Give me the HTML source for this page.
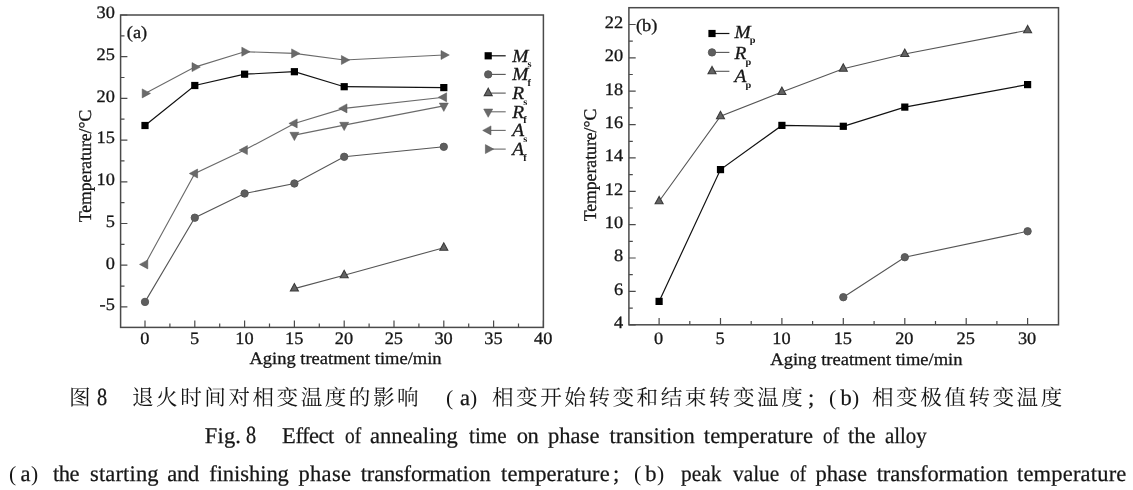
<!DOCTYPE html>
<html lang="zh"><head><meta charset="utf-8"><title>Fig. 8</title>
<style>
html,body{margin:0;padding:0;background:#fff;}
body{width:1133px;height:490px;position:relative;overflow:hidden;font-family:"Liberation Serif",serif;color:#161616;text-rendering:geometricPrecision;}
#wrap{position:absolute;left:0;top:0;width:1133px;height:490px;will-change:transform;}
svg{position:absolute;left:0;top:0;}
svg text{font-family:"Liberation Serif",serif;font-size:17.4px;text-rendering:geometricPrecision;fill:#161616;stroke:#161616;stroke-width:0.3px;}
.ln{position:absolute;left:0;width:1133px;height:26px;margin:0;font-size:22.5px;line-height:26px;white-space:nowrap;}
.w{position:absolute;top:0;-webkit-text-stroke:0.25px #161616;}
.zh{position:absolute;top:0;color:#161616;letter-spacing:2.5px;font-size:21.6px;font-family:"Liberation Serif","Noto Serif CJK SC",serif;}
</style></head><body><div id="wrap">
<svg width="1133" height="490" viewBox="0 0 1133 490">
<rect x="120.6" y="15.0" width="422.8" height="312.4" fill="none" stroke="#4a4a4a" stroke-width="1.5"/>
<path d="M145.0 327.4v-6.8M194.8 327.4v-6.8M244.6 327.4v-6.8M294.4 327.4v-6.8M344.2 327.4v-6.8M394.0 327.4v-6.8M443.8 327.4v-6.8M493.6 327.4v-6.8M543.4 327.4v-6.8M169.9 327.4v-3.9M219.7 327.4v-3.9M269.5 327.4v-3.9M319.3 327.4v-3.9M369.1 327.4v-3.9M418.9 327.4v-3.9M468.7 327.4v-3.9M518.5 327.4v-3.9M120.6 306.9h6.8M120.6 265.2h6.8M120.6 223.5h6.8M120.6 181.8h6.8M120.6 140.1h6.8M120.6 98.4h6.8M120.6 56.7h6.8M120.6 15.0h6.8M120.6 286.1h3.9M120.6 244.3h3.9M120.6 202.6h3.9M120.6 160.9h3.9M120.6 119.2h3.9M120.6 77.5h3.9M120.6 35.8h3.9" stroke="#4a4a4a" stroke-width="1.2" fill="none"/>
<rect x="628.9" y="7.7" width="429.6" height="317.1" fill="none" stroke="#4a4a4a" stroke-width="1.5"/>
<path d="M659.1 324.8v-6.8M720.5 324.8v-6.8M781.9 324.8v-6.8M843.3 324.8v-6.8M904.8 324.8v-6.8M966.2 324.8v-6.8M1027.6 324.8v-6.8M689.8 324.8v-3.9M751.2 324.8v-3.9M812.6 324.8v-3.9M874.1 324.8v-3.9M935.5 324.8v-3.9M996.9 324.8v-3.9M628.9 324.8h6.8M628.9 291.4h6.8M628.9 258.0h6.8M628.9 224.7h6.8M628.9 191.3h6.8M628.9 157.9h6.8M628.9 124.6h6.8M628.9 91.2h6.8M628.9 57.9h6.8M628.9 24.5h6.8M628.9 308.1h3.9M628.9 274.7h3.9M628.9 241.3h3.9M628.9 208.0h3.9M628.9 174.6h3.9M628.9 141.3h3.9M628.9 107.9h3.9M628.9 74.5h3.9M628.9 41.2h3.9" stroke="#4a4a4a" stroke-width="1.2" fill="none"/>
<polyline points="145.0,125.5 194.8,85.5 244.6,74.2 294.4,71.7 344.2,86.7 443.8,87.6" fill="none" stroke="#111" stroke-width="1.2"/>
<rect x="141.4" y="121.9" width="7.2" height="7.2" fill="#000"/>
<rect x="191.2" y="81.9" width="7.2" height="7.2" fill="#000"/>
<rect x="241.0" y="70.6" width="7.2" height="7.2" fill="#000"/>
<rect x="290.8" y="68.1" width="7.2" height="7.2" fill="#000"/>
<rect x="340.6" y="83.1" width="7.2" height="7.2" fill="#000"/>
<rect x="440.2" y="84.0" width="7.2" height="7.2" fill="#000"/>
<polyline points="145.0,301.9 194.8,217.7 244.6,193.5 294.4,183.5 344.2,156.8 443.8,146.8" fill="none" stroke="#555" stroke-width="1.1"/>
<circle cx="145.0" cy="301.9" r="3.7" fill="#5e5e5e" stroke="#555" stroke-width="0.9"/>
<circle cx="194.8" cy="217.7" r="3.7" fill="#5e5e5e" stroke="#555" stroke-width="0.9"/>
<circle cx="244.6" cy="193.5" r="3.7" fill="#5e5e5e" stroke="#555" stroke-width="0.9"/>
<circle cx="294.4" cy="183.5" r="3.7" fill="#5e5e5e" stroke="#555" stroke-width="0.9"/>
<circle cx="344.2" cy="156.8" r="3.7" fill="#5e5e5e" stroke="#555" stroke-width="0.9"/>
<circle cx="443.8" cy="146.8" r="3.7" fill="#5e5e5e" stroke="#555" stroke-width="0.9"/>
<polyline points="294.4,288.6 344.2,275.2 443.8,247.7" fill="none" stroke="#555" stroke-width="1.1"/>
<polygon points="294.4,283.6 290.4,291.0 298.4,291.0" fill="#636363" stroke="#3a3a3a" stroke-width="1.1" stroke-linejoin="miter"/>
<polygon points="344.2,270.3 340.2,277.7 348.2,277.7" fill="#636363" stroke="#3a3a3a" stroke-width="1.1" stroke-linejoin="miter"/>
<polygon points="443.8,242.8 439.8,250.2 447.8,250.2" fill="#636363" stroke="#3a3a3a" stroke-width="1.1" stroke-linejoin="miter"/>
<polyline points="294.4,135.1 344.2,125.1 443.8,105.9" fill="none" stroke="#6a6a6a" stroke-width="1.1"/>
<polygon points="294.4,140.6 289.9,132.3 298.9,132.3" fill="#6a6a6a" stroke="#555" stroke-width="0.5"/>
<polygon points="344.2,130.6 339.7,122.3 348.7,122.3" fill="#6a6a6a" stroke="#555" stroke-width="0.5"/>
<polygon points="443.8,111.4 439.3,103.1 448.3,103.1" fill="#6a6a6a" stroke="#555" stroke-width="0.5"/>
<polyline points="145.0,264.4 194.8,173.5 244.6,150.1 294.4,123.4 344.2,108.4 443.8,97.3" fill="none" stroke="#6a6a6a" stroke-width="1.1"/>
<polygon points="139.5,264.4 147.8,259.9 147.8,268.9" fill="#6a6a6a" stroke="#555" stroke-width="0.5"/>
<polygon points="189.3,173.5 197.6,169.0 197.6,178.0" fill="#6a6a6a" stroke="#555" stroke-width="0.5"/>
<polygon points="239.1,150.1 247.4,145.6 247.4,154.6" fill="#6a6a6a" stroke="#555" stroke-width="0.5"/>
<polygon points="288.9,123.4 297.2,118.9 297.2,127.9" fill="#6a6a6a" stroke="#555" stroke-width="0.5"/>
<polygon points="338.7,108.4 347.0,103.9 347.0,112.9" fill="#6a6a6a" stroke="#555" stroke-width="0.5"/>
<polygon points="438.3,97.3 446.6,92.8 446.6,101.8" fill="#6a6a6a" stroke="#555" stroke-width="0.5"/>
<polyline points="145.0,93.4 194.8,67.1 244.6,51.7 294.4,53.4 344.2,60.0 443.8,55.0" fill="none" stroke="#6a6a6a" stroke-width="1.1"/>
<polygon points="150.5,93.4 142.2,88.9 142.2,97.9" fill="#6a6a6a" stroke="#555" stroke-width="0.5"/>
<polygon points="200.3,67.1 192.0,62.6 192.0,71.6" fill="#6a6a6a" stroke="#555" stroke-width="0.5"/>
<polygon points="250.1,51.7 241.8,47.2 241.8,56.2" fill="#6a6a6a" stroke="#555" stroke-width="0.5"/>
<polygon points="299.9,53.4 291.6,48.9 291.6,57.9" fill="#6a6a6a" stroke="#555" stroke-width="0.5"/>
<polygon points="349.7,60.0 341.4,55.5 341.4,64.5" fill="#6a6a6a" stroke="#555" stroke-width="0.5"/>
<polygon points="449.3,55.0 441.0,50.5 441.0,59.5" fill="#6a6a6a" stroke="#555" stroke-width="0.5"/>
<polyline points="659.1,301.4 720.5,169.6 781.9,125.4 843.3,126.3 904.8,107.1 1027.6,84.6" fill="none" stroke="#111" stroke-width="1.2"/>
<rect x="655.5" y="297.8" width="7.2" height="7.2" fill="#000"/>
<rect x="716.9" y="166.0" width="7.2" height="7.2" fill="#000"/>
<rect x="778.3" y="121.8" width="7.2" height="7.2" fill="#000"/>
<rect x="839.7" y="122.7" width="7.2" height="7.2" fill="#000"/>
<rect x="901.2" y="103.5" width="7.2" height="7.2" fill="#000"/>
<rect x="1024.0" y="81.0" width="7.2" height="7.2" fill="#000"/>
<polyline points="843.3,297.2 904.8,257.2 1027.6,231.3" fill="none" stroke="#555" stroke-width="1.1"/>
<circle cx="843.3" cy="297.2" r="3.7" fill="#5e5e5e" stroke="#555" stroke-width="0.9"/>
<circle cx="904.8" cy="257.2" r="3.7" fill="#5e5e5e" stroke="#555" stroke-width="0.9"/>
<circle cx="1027.6" cy="231.3" r="3.7" fill="#5e5e5e" stroke="#555" stroke-width="0.9"/>
<polyline points="659.1,201.3 720.5,116.2 781.9,92.1 843.3,68.7 904.8,54.0 1027.6,30.3" fill="none" stroke="#555" stroke-width="1.1"/>
<polygon points="659.1,196.4 655.1,203.8 663.1,203.8" fill="#636363" stroke="#3a3a3a" stroke-width="1.1" stroke-linejoin="miter"/>
<polygon points="720.5,111.3 716.5,118.7 724.5,118.7" fill="#636363" stroke="#3a3a3a" stroke-width="1.1" stroke-linejoin="miter"/>
<polygon points="781.9,87.1 777.9,94.5 785.9,94.5" fill="#636363" stroke="#3a3a3a" stroke-width="1.1" stroke-linejoin="miter"/>
<polygon points="843.3,63.8 839.3,71.2 847.3,71.2" fill="#636363" stroke="#3a3a3a" stroke-width="1.1" stroke-linejoin="miter"/>
<polygon points="904.8,49.1 900.8,56.5 908.8,56.5" fill="#636363" stroke="#3a3a3a" stroke-width="1.1" stroke-linejoin="miter"/>
<polygon points="1027.6,25.4 1023.6,32.8 1031.6,32.8" fill="#636363" stroke="#3a3a3a" stroke-width="1.1" stroke-linejoin="miter"/>
<path d="M488.2 55.8H505.7" stroke="#111" stroke-width="1.2"/>
<rect x="484.6" y="52.2" width="7.2" height="7.2" fill="#000"/>
<path d="M488.2 74.4H505.7" stroke="#555" stroke-width="1.1"/>
<circle cx="488.2" cy="74.4" r="3.7" fill="#5e5e5e" stroke="#555" stroke-width="0.9"/>
<path d="M488.2 93.1H505.7" stroke="#555" stroke-width="1.1"/>
<polygon points="488.2,88.2 484.2,95.6 492.2,95.6" fill="#636363" stroke="#3a3a3a" stroke-width="1.1" stroke-linejoin="miter"/>
<path d="M488.2 111.8H505.7" stroke="#6a6a6a" stroke-width="1.1"/>
<polygon points="488.2,117.3 483.7,109.0 492.7,109.0" fill="#6a6a6a" stroke="#555" stroke-width="0.5"/>
<path d="M488.2 130.4H505.7" stroke="#6a6a6a" stroke-width="1.1"/>
<polygon points="482.7,130.4 491.0,125.9 491.0,134.9" fill="#6a6a6a" stroke="#555" stroke-width="0.5"/>
<path d="M488.2 149.1H505.7" stroke="#6a6a6a" stroke-width="1.1"/>
<polygon points="493.7,149.1 485.4,144.6 485.4,153.6" fill="#6a6a6a" stroke="#555" stroke-width="0.5"/>
<path d="M712 33.5H729.4" stroke="#111" stroke-width="1.2"/>
<rect x="708.4" y="29.9" width="7.2" height="7.2" fill="#000"/>
<path d="M712 52.4H729.4" stroke="#555" stroke-width="1.1"/>
<circle cx="712.0" cy="52.4" r="3.7" fill="#5e5e5e" stroke="#555" stroke-width="0.9"/>
<path d="M712 71.3H729.4" stroke="#555" stroke-width="1.1"/>
<polygon points="712.0,66.4 708.0,73.8 716.0,73.8" fill="#636363" stroke="#3a3a3a" stroke-width="1.1" stroke-linejoin="miter"/>
<g><text transform="translate(144.8,344.0) scale(1.055,1)" text-anchor="middle">0</text>
<text transform="translate(194.6,344.0) scale(1.055,1)" text-anchor="middle">5</text>
<text transform="translate(244.4,344.0) scale(1.055,1)" text-anchor="middle">10</text>
<text transform="translate(294.2,344.0) scale(1.055,1)" text-anchor="middle">15</text>
<text transform="translate(344.0,344.0) scale(1.055,1)" text-anchor="middle">20</text>
<text transform="translate(393.8,344.0) scale(1.055,1)" text-anchor="middle">25</text>
<text transform="translate(443.6,344.0) scale(1.055,1)" text-anchor="middle">30</text>
<text transform="translate(493.4,344.0) scale(1.055,1)" text-anchor="middle">35</text>
<text transform="translate(543.2,344.0) scale(1.055,1)" text-anchor="middle">40</text>
<text transform="translate(114.9,310.2) scale(1.055,1)" text-anchor="end">-5</text>
<text transform="translate(114.9,268.5) scale(1.055,1)" text-anchor="end">0</text>
<text transform="translate(114.9,226.8) scale(1.055,1)" text-anchor="end">5</text>
<text transform="translate(114.9,185.1) scale(1.055,1)" text-anchor="end">10</text>
<text transform="translate(114.9,143.4) scale(1.055,1)" text-anchor="end">15</text>
<text transform="translate(114.9,101.7) scale(1.055,1)" text-anchor="end">20</text>
<text transform="translate(114.9,60.0) scale(1.055,1)" text-anchor="end">25</text>
<text transform="translate(114.9,18.3) scale(1.055,1)" text-anchor="end">30</text>
<text transform="translate(658.6,344.1) scale(1.055,1)" text-anchor="middle">0</text>
<text transform="translate(720.0,344.1) scale(1.055,1)" text-anchor="middle">5</text>
<text transform="translate(781.4,344.1) scale(1.055,1)" text-anchor="middle">10</text>
<text transform="translate(842.8,344.1) scale(1.055,1)" text-anchor="middle">15</text>
<text transform="translate(904.3,344.1) scale(1.055,1)" text-anchor="middle">20</text>
<text transform="translate(965.7,344.1) scale(1.055,1)" text-anchor="middle">25</text>
<text transform="translate(1027.1,344.1) scale(1.055,1)" text-anchor="middle">30</text>
<text transform="translate(623.2,328.1) scale(1.055,1)" text-anchor="end">4</text>
<text transform="translate(623.2,294.7) scale(1.055,1)" text-anchor="end">6</text>
<text transform="translate(623.2,261.3) scale(1.055,1)" text-anchor="end">8</text>
<text transform="translate(623.2,228.0) scale(1.055,1)" text-anchor="end">10</text>
<text transform="translate(623.2,194.6) scale(1.055,1)" text-anchor="end">12</text>
<text transform="translate(623.2,161.2) scale(1.055,1)" text-anchor="end">14</text>
<text transform="translate(623.2,127.9) scale(1.055,1)" text-anchor="end">16</text>
<text transform="translate(623.2,94.5) scale(1.055,1)" text-anchor="end">18</text>
<text transform="translate(623.2,61.2) scale(1.055,1)" text-anchor="end">20</text>
<text transform="translate(623.2,27.8) scale(1.055,1)" text-anchor="end">22</text>
<text transform="translate(249.4,364.4) scale(1.064,1)" text-anchor="start">Aging treatment time/min</text>
<text transform="translate(770.3,364.5) scale(1.064,1)" text-anchor="start">Aging treatment time/min</text>
<text transform="translate(90.9,166) rotate(-90) scale(1.015,1.03)" text-anchor="middle">Temperature/°C</text>
<text transform="translate(595.9,165) rotate(-90) scale(1.015,1.03)" text-anchor="middle">Temperature/°C</text>
<text transform="translate(126.8,37.9) scale(1.055,1)" text-anchor="start">(a)</text>
<text transform="translate(635.9,31.4) scale(1.055,1)" text-anchor="start">(b)</text>
<text transform="translate(512.3,61.7) scale(1.055,1)" text-anchor="start"><tspan font-style="italic" font-size="18.4">M</tspan><tspan font-size="9.8" font-weight="bold" stroke-width="0" dx="-0.9" dy="5.6">s</tspan></text>
<text transform="translate(512.3,80.3) scale(1.055,1)" text-anchor="start"><tspan font-style="italic" font-size="18.4">M</tspan><tspan font-size="9.8" font-weight="bold" stroke-width="0" dx="-0.9" dy="5.6">f</tspan></text>
<text transform="translate(512.3,99.0) scale(1.055,1)" text-anchor="start"><tspan font-style="italic" font-size="18.4">R</tspan><tspan font-size="9.8" font-weight="bold" stroke-width="0" dx="-0.9" dy="5.6">s</tspan></text>
<text transform="translate(512.3,117.7) scale(1.055,1)" text-anchor="start"><tspan font-style="italic" font-size="18.4">R</tspan><tspan font-size="9.8" font-weight="bold" stroke-width="0" dx="-0.9" dy="5.6">f</tspan></text>
<text transform="translate(512.3,136.3) scale(1.055,1)" text-anchor="start"><tspan font-style="italic" font-size="18.4">A</tspan><tspan font-size="9.8" font-weight="bold" stroke-width="0" dx="-0.9" dy="5.6">s</tspan></text>
<text transform="translate(512.3,155.0) scale(1.055,1)" text-anchor="start"><tspan font-style="italic" font-size="18.4">A</tspan><tspan font-size="9.8" font-weight="bold" stroke-width="0" dx="-0.9" dy="5.6">f</tspan></text>
<text transform="translate(734.6,37.8) scale(1.055,1)" text-anchor="start"><tspan font-style="italic" font-size="18.4">M</tspan><tspan font-size="9.8" font-weight="bold" stroke-width="0" dx="-0.9" dy="5.6">p</tspan></text>
<text transform="translate(734.6,59.2) scale(1.055,1)" text-anchor="start"><tspan font-style="italic" font-size="18.4">R</tspan><tspan font-size="9.8" font-weight="bold" stroke-width="0" dx="-0.9" dy="5.6">p</tspan></text>
<text transform="translate(734.6,82.0) scale(1.055,1)" text-anchor="start"><tspan font-style="italic" font-size="18.4">A</tspan><tspan font-size="9.8" font-weight="bold" stroke-width="0" dx="-0.9" dy="5.6">p</tspan></text></g>
</svg>
<p class="ln" style="top:385.01px"><span class="zh" style="left:69px">图</span> <span class="w" style="left:97.1px;transform:scale(0.9,1.1);transform-origin:0 24.59px">8</span> <span class="zh" style="left:132px">退火时间对相变温度的影响</span> <span class="zh" style="left:446px">(</span><span class="w" style="left:460.0px;letter-spacing:0.00px">a</span><span class="zh" style="left:470px">)</span> <span class="zh" style="left:492px">相变开始转变和结束转变温度</span><span class="w" style="left:808.1px;letter-spacing:0.00px">;</span> <span class="zh" style="left:829px">(</span><span class="w" style="left:840.5px;letter-spacing:0.00px">b</span><span class="zh" style="left:852px">)</span> <span class="zh" style="left:872px">相变极值转变温度</span></p>
<p class="ln" style="top:423.11px"><span class="w" style="left:204.8px;letter-spacing:0.16px">Fig.</span> <span class="w" style="left:245.9px;transform:scale(0.9,1.1);transform-origin:0 24.59px">8</span> <span class="w" style="left:282.1px;letter-spacing:-0.46px">Effect</span> <span class="w" style="left:344.9px;transform:scaleX(0.860);transform-origin:0 0">of</span> <span class="w" style="left:370.0px;letter-spacing:0.05px">annealing</span> <span class="w" style="left:468.6px;transform:scaleX(0.940);transform-origin:0 0">time</span> <span class="w" style="left:516.8px;letter-spacing:-0.55px">on</span> <span class="w" style="left:548.0px;letter-spacing:0.04px">phase</span> <span class="w" style="left:609.4px;letter-spacing:0.05px">transition</span> <span class="w" style="left:703.8px;letter-spacing:0.17px">temperature</span> <span class="w" style="left:823.0px;transform:scaleX(0.860);transform-origin:0 0">of</span> <span class="w" style="left:848.1px;letter-spacing:-0.10px">the</span> <span class="w" style="left:885.2px;transform:scaleX(0.927);transform-origin:0 0">alloy</span></p>
<p class="ln" style="top:461.11px"><span class="zh" style="left:9px">(</span><span class="w" style="left:20.5px;letter-spacing:0.00px">a</span><span class="zh" style="left:31px">)</span> <span class="w" style="left:53.0px;letter-spacing:-0.55px">the</span> <span class="w" style="left:90.0px;letter-spacing:0.15px">starting</span> <span class="w" style="left:167.3px;letter-spacing:-0.22px">and</span> <span class="w" style="left:209.2px;letter-spacing:-0.04px">finishing</span> <span class="w" style="left:298.5px;letter-spacing:0.31px">phase</span> <span class="w" style="left:360.8px;letter-spacing:-0.19px">transformation</span> <span class="w" style="left:501.1px;letter-spacing:0.11px">temperature</span><span class="w" style="left:613.1px;letter-spacing:0.00px">;</span> <span class="zh" style="left:634px">(</span><span class="w" style="left:645.2px;letter-spacing:0.00px">b</span><span class="zh" style="left:657px">)</span> <span class="w" style="left:680.5px;transform:scaleX(0.949);transform-origin:0 0">peak</span> <span class="w" style="left:733.4px;transform:scaleX(0.950);transform-origin:0 0">value</span> <span class="w" style="left:790.3px;transform:scaleX(0.860);transform-origin:0 0">of</span> <span class="w" style="left:815.5px;letter-spacing:0.04px">phase</span> <span class="w" style="left:876.7px;letter-spacing:-0.09px">transformation</span> <span class="w" style="left:1017.0px;letter-spacing:0.19px">temperature</span></p>
</div></body></html>
